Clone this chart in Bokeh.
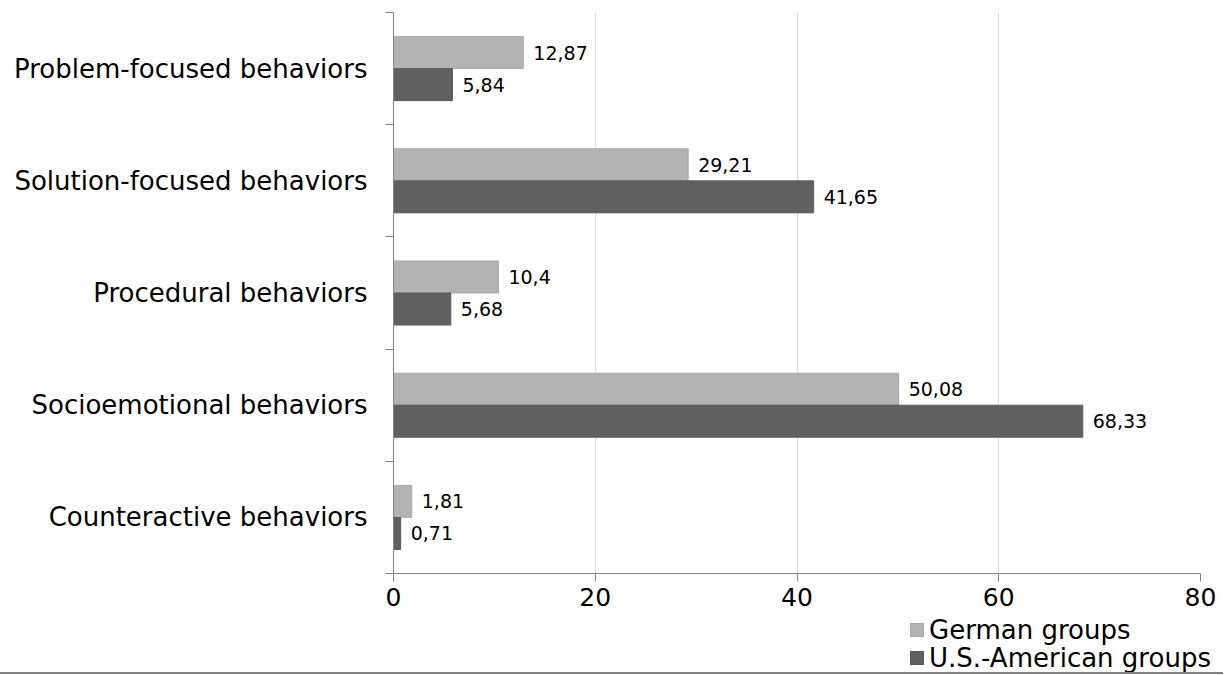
from bokeh.plotting import figure
from bokeh.models import ColumnDataSource, Range1d, FixedTicker, Div
from bokeh.layouts import column
from bokeh.core.properties import value
from bokeh.embed import file_html
from bokeh.resources import INLINE

# ---- data ----
categories = [
    "Problem-focused behaviors",
    "Solution-focused behaviors",
    "Procedural behaviors",
    "Socioemotional behaviors",
    "Counteractive behaviors",
]
german = [12.87, 29.21, 10.4, 50.08, 1.81]
us_american = [5.84, 41.65, 5.68, 68.33, 0.71]
series_names = ["German groups", "U.S.-American groups"]
x_ticks = [0, 20, 40, 60, 80]

# ---- styling ----
FONT = "DejaVu Sans"
C_GER = "#b3b3b3"
C_US = "#606060"
L_GER = "#a9a9a9"
L_US = "#5a5a5a"
AXIS_C = "#868686"
GRID_C = "#d9d9d9"
BAR_H = 0.285
DODGE = 0.143
W = 1223

n = len(categories)
centers = [n - 0.5 - i for i in range(n)]


def fmt(v):
    return f"{v:g}".replace(".", ",")


src_g = ColumnDataSource(dict(y=[c + DODGE for c in centers], x=german,
                              lab=[fmt(v) for v in german]))
src_u = ColumnDataSource(dict(y=[c - DODGE for c in centers], x=us_american,
                              lab=[fmt(v) for v in us_american]))

p = figure(width=W, height=616,
           x_range=Range1d(x_ticks[0], x_ticks[-1]), y_range=Range1d(0, n),
           output_backend="svg", toolbar_location=None,
           min_border_left=393, min_border_right=23,
           min_border_top=12, min_border_bottom=43)
p.outline_line_color = None
p.background_fill_color = "white"
p.border_fill_color = "white"

p.hbar(y="y", left=0, right="x", height=BAR_H, source=src_g,
       fill_color=C_GER, line_color=L_GER, line_width=1)
p.hbar(y="y", left=0, right="x", height=BAR_H, source=src_u,
       fill_color=C_US, line_color=L_US, line_width=1)

for src in (src_g, src_u):
    p.text(x="x", y="y", text="lab", source=src, x_offset=10,
           text_align="left", text_baseline="middle",
           text_font=value(FONT), text_font_size="19px", text_color="#000000")

# grid
p.ygrid.visible = False
p.xgrid.ticker = FixedTicker(ticks=x_ticks)
p.xgrid.grid_line_color = GRID_C
p.xgrid.grid_line_width = 1

# x axis
xa = p.xaxis[0]
xa.ticker = FixedTicker(ticks=x_ticks, minor_ticks=[])
xa.axis_line_color = AXIS_C
xa.major_tick_line_color = AXIS_C
xa.major_tick_out = 8
xa.major_tick_in = 0
xa.minor_tick_line_color = None
xa.minor_tick_out = 0
xa.minor_tick_in = 0
xa.major_label_standoff = 6
xa.major_label_text_font = FONT
xa.major_label_text_font_size = "25px"
xa.major_label_text_color = "#000000"

# y axis (category labels at centers, ticks at boundaries)
ya = p.yaxis[0]
ya.ticker = FixedTicker(ticks=centers, minor_ticks=list(range(n + 1)))
ya.major_label_overrides = {c: cat for c, cat in zip(centers, categories)}
ya.axis_line_color = AXIS_C
ya.major_tick_line_color = None
ya.major_tick_out = 0
ya.major_tick_in = 0
ya.minor_tick_line_color = AXIS_C
ya.minor_tick_out = 8
ya.minor_tick_in = 0
ya.major_label_standoff = 18
ya.major_label_text_font = FONT
ya.major_label_text_font_size = "26px"
ya.major_label_text_color = "#000000"

# ---- legend (HTML strip below the chart) ----
rows = ""
for name, fc, lc in zip(series_names, (C_GER, C_US), (L_GER, L_US)):
    rows += (
        '<div style="height:28px;line-height:28px;white-space:nowrap;">'
        f'<span style="display:inline-block;width:14px;height:14px;background:{fc};'
        f'border:1px solid {lc};box-sizing:border-box;vertical-align:middle;'
        'margin-right:5px;"></span>'
        f'<span style="vertical-align:middle;">{name}</span></div>'
    )
legend_html = (
    f'<div style="position:relative;top:-2px;padding-left:910px;'
    f'font-family:\'{FONT}\';font-size:26px;color:#000000;">{rows}</div>'
)
legend_div = Div(text=legend_html, width=W, height=56, margin=0)

line = Div(text="", width=W, height=2, margin=0,
           styles={"background-color": "#7f7f7f"})

layout = column(p, legend_div, line, spacing=0)
open("out.html", "w").write(file_html(layout, INLINE))
